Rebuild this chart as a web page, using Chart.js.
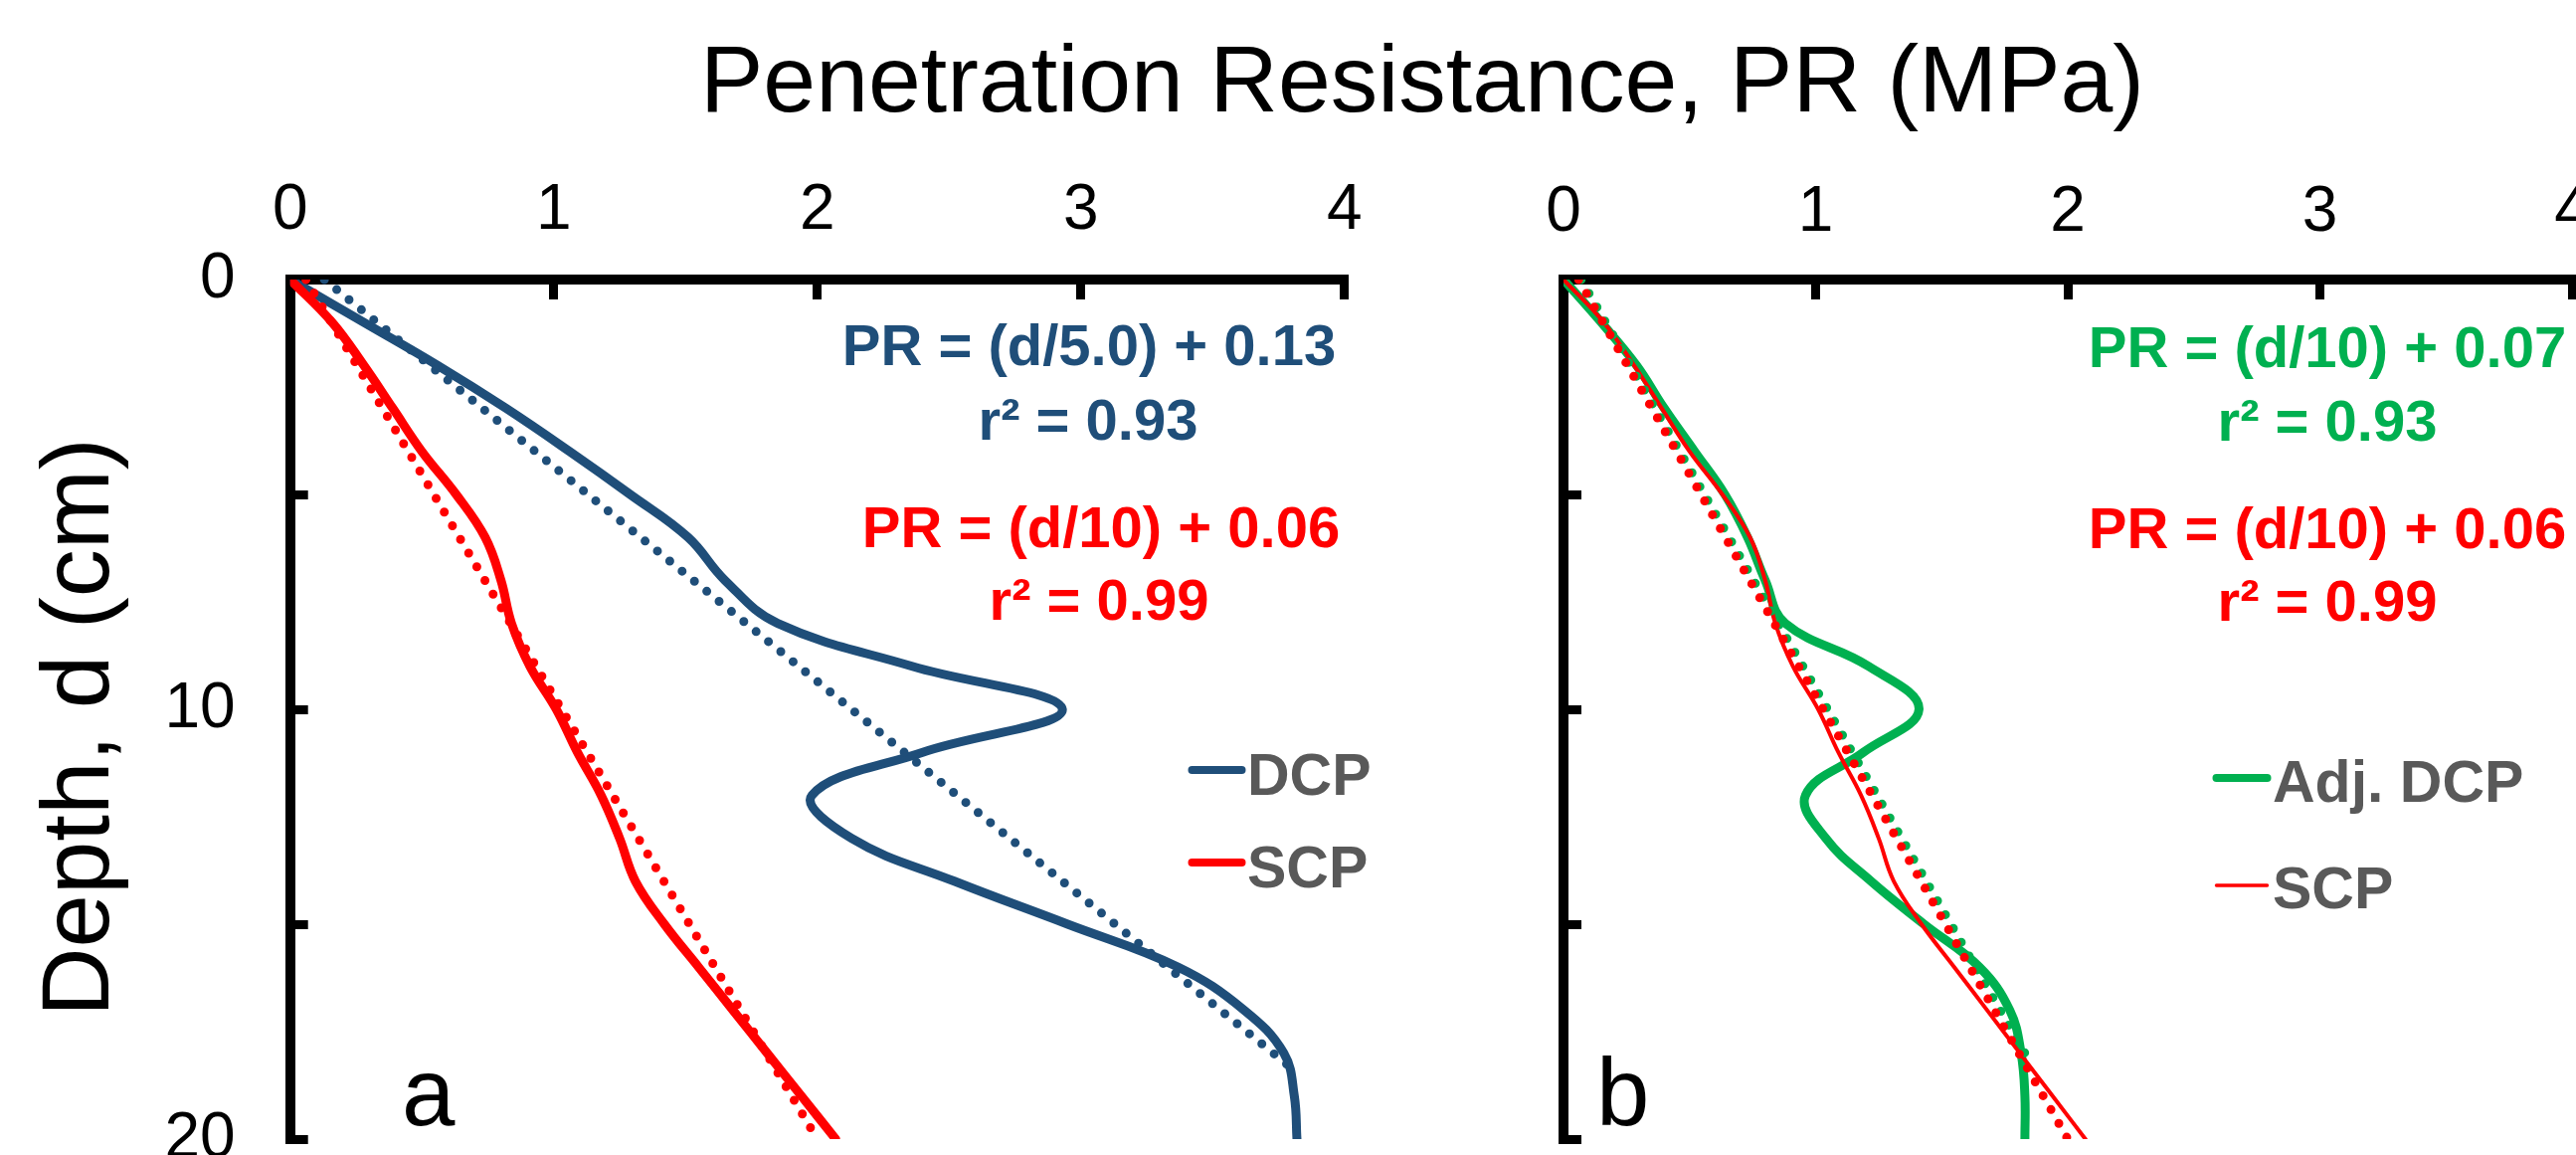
<!DOCTYPE html>
<html>
<head>
<meta charset="utf-8">
<script src="https://cdn.jsdelivr.net/npm/chart.js@4.4.1/dist/chart.umd.min.js"></script>
<style>
  html, body { margin: 0; padding: 0; background: #ffffff; }
  #wrap { position: relative; width: 2590px; height: 1161px; overflow: hidden; background: #ffffff; }
  canvas { position: absolute; top: 0; }
</style>
</head>
<body>
<div id="wrap">
  <canvas id="chartA" width="1400" height="1161" style="left:0px"></canvas>
  <canvas id="chartB" width="2316" height="1161" style="left:274px"></canvas>
</div>
<script>
// ---------------- DATA ----------------
const depthCm   = [0, 1, 2, 3, 4, 5, 6, 7, 8, 9, 10, 11, 12, 13, 14, 15, 16, 17, 18, 19, 20];
const dcpMPa    = [0, 0.28, 0.56, 0.82, 1.06, 1.29, 1.51, 1.65, 1.85, 2.36, 2.93, 2.40, 1.98, 2.13, 2.52, 2.95, 3.37, 3.62, 3.77, 3.81, 3.82];
const scpMPa    = [0, 0.16, 0.28, 0.39, 0.50, 0.63, 0.74, 0.80, 0.84, 0.91, 1.01, 1.09, 1.18, 1.25, 1.31, 1.42, 1.55, 1.68, 1.81, 1.94, 2.07];
const adjDcpMPa = [0, 0.15, 0.29, 0.40, 0.52, 0.64, 0.73, 0.80, 0.88, 1.21, 1.41, 1.19, 0.96, 1.04, 1.22, 1.43, 1.65, 1.77, 1.815, 1.83, 1.83];

// trend lines (end points)
const dcpTrendMPa    = [0.13, 3.80];
const dcpTrendDepth  = [0, 18.35];
const scpTrendMPa    = [0.06, 2.00];
const scpTrendDepth  = [0, 20];
const adjTrendMPa    = [0.07, 1.83];
const adjTrendDepth  = [0, 18.0];

const xTicksMPa   = [0, 1, 2, 3, 4];
const yTicksDepth = [0, 5, 10, 15, 20];
const yLabelled   = [0, 10, 20];

const titleText  = 'Penetration Resistance, PR (MPa)';
const yTitleText = 'Depth, d (cm)';
const eqA = ['PR = (d/5.0) + 0.13', 'r\u00B2 = 0.93', 'PR = (d/10) + 0.06', 'r\u00B2 = 0.99'];
const eqB = ['PR = (d/10) + 0.07', 'r\u00B2 = 0.93', 'PR = (d/10) + 0.06', 'r\u00B2 = 0.99'];
const panelLetters = ['a', 'b'];

// --------------- STYLE ----------------
const BLUE = '#1F4E79', RED = '#FF0000', GREEN = '#00B050', GRAY = '#595959';
const FAM = "'Liberation Sans', Arial, Helvetica, sans-serif";
Chart.defaults.font.family = FAM;

function pts(xs, ys) { return xs.map((x, i) => ({ x: x, y: ys[i] })); }

const overlayPlugin = {
  id: 'overlay',
  afterDatasetsDraw(chart, args, opts) {
    const ctx = chart.ctx;
    const ox = opts.offsetX || 0;
    ctx.save();
    (opts.texts || []).forEach(t => {
      ctx.save();
      ctx.font = t.font;
      ctx.fillStyle = t.color;
      ctx.textAlign = t.align || 'left';
      ctx.textBaseline = t.baseline || 'alphabetic';
      ctx.translate(t.x - ox, t.y);
      if (t.rotate) ctx.rotate(t.rotate);
      ctx.fillText(t.text, 0, 0);
      ctx.restore();
    });
    (opts.legend || []).forEach(l => {
      const ds = chart.data.datasets[l.dataset];
      ctx.strokeStyle = ds.borderColor;
      ctx.lineWidth = l.w || ds.borderWidth;
      ctx.lineCap = 'round';
      ctx.setLineDash([]);
      ctx.beginPath();
      ctx.moveTo(l.x1 - ox, l.y);
      ctx.lineTo(l.x2 - ox, l.y);
      ctx.stroke();
      ctx.font = 'bold 59px ' + FAM;
      ctx.fillStyle = GRAY;
      ctx.textAlign = 'left';
      ctx.textBaseline = 'alphabetic';
      ctx.fillText(ds.label, l.tx - ox, l.ty);
    });
    ctx.restore();
  }
};

function xScale(pad, height) {
  return {
    type: 'linear', position: 'top', min: 0, max: 4,
    afterBuildTicks: s => { s.ticks = xTicksMPa.map(v => ({ value: v })); },
    ticks: { color: '#000', font: { size: 64 }, padding: pad, maxRotation: 0, autoSkip: false },
    grid: { display: true, drawOnChartArea: false, drawTicks: true, tickLength: -20, tickWidth: 9, tickColor: '#000' },
    border: { display: true, width: 10, color: '#000' },
    afterFit: s => { s.height = height; s.paddingLeft = 0; s.paddingRight = 0; s.paddingTop = 0; s.paddingBottom = 0; }
  };
}
function yScale(showLabels, width) {
  return {
    type: 'linear', position: 'left', min: 0, max: 20, reverse: true,
    afterBuildTicks: s => { s.ticks = yTicksDepth.map(v => ({ value: v })); },
    ticks: {
      color: '#000', font: { size: 64 }, padding: 73, autoSkip: false,
      callback: v => (showLabels && yLabelled.includes(v)) ? String(v) : ''
    },
    grid: { display: true, drawOnChartArea: false, drawTicks: true, tickLength: -18, tickWidth: 9, tickColor: '#000' },
    border: { display: true, width: 10, color: '#000' },
    afterFit: s => { s.width = width; s.paddingLeft = 0; s.paddingRight = 0; s.paddingTop = 0; s.paddingBottom = 0; }
  };
}

const solid = (label, xs, color, w, order) => ({
  label: label, data: pts(xs, depthCm), borderColor: color, backgroundColor: color,
  borderWidth: w, showLine: true, pointRadius: 0, tension: 0.4, order: order,
  borderCapStyle: 'round', borderJoinStyle: 'round'
});
const dotted = (label, xs, ys, color, order) => ({
  label: label, data: pts(xs, ys), borderColor: color, backgroundColor: color,
  borderWidth: 9, showLine: true, pointRadius: 0, tension: 0, order: order,
  borderDash: [0, 16], borderCapStyle: 'round'
});

// ---------------- PANEL A ----------------
const xA = xScale(50, 281);
const yA = yScale(true, 291.7);

new Chart(document.getElementById('chartA'), {
  type: 'scatter',
  data: {
    datasets: [
      solid('DCP', dcpMPa, BLUE, 9, 3),
      solid('SCP', scpMPa, RED, 9, 2),
      dotted('DCP trend', dcpTrendMPa, dcpTrendDepth, BLUE, 1),
      dotted('SCP trend', scpTrendMPa, scpTrendDepth, RED, 0)
    ]
  },
  options: {
    responsive: false, animation: false, devicePixelRatio: 1,
    layout: { autoPadding: false, padding: { left: 0, top: 0, right: 48.3, bottom: 16 } },
    scales: { x: xA, y: yA },
    plugins: {
      legend: { display: false }, tooltip: { enabled: false }, title: { display: false },
      overlay: {
        offsetX: 0,
        texts: [
          { text: yTitleText, x: 83, y: 731, font: '96px ' + FAM, color: '#000', align: 'center', baseline: 'middle', rotate: -Math.PI / 2 },
          { text: eqA[0], x: 1095, y: 367, font: 'bold 58px ' + FAM, color: BLUE, align: 'center' },
          { text: eqA[1], x: 1094, y: 442, font: 'bold 58px ' + FAM, color: BLUE, align: 'center' },
          { text: eqA[2], x: 1107, y: 550, font: 'bold 58px ' + FAM, color: RED, align: 'center' },
          { text: eqA[3], x: 1105, y: 623, font: 'bold 58px ' + FAM, color: RED, align: 'center' },
          { text: panelLetters[0], x: 404, y: 1131, font: '96px ' + FAM, color: '#000', align: 'left' }
        ],
        legend: [
          { dataset: 0, x1: 1198.5, x2: 1248.5, y: 774, tx: 1254, ty: 799, w: 8 },
          { dataset: 1, x1: 1198.5, x2: 1248.5, y: 867, tx: 1254, ty: 892, w: 8 }
        ]
      }
    }
  },
  plugins: [overlayPlugin]
});

// ---------------- PANEL B ----------------
const xB = xScale(48, 138);
const yB = yScale(false, 1298);

new Chart(document.getElementById('chartB'), {
  type: 'scatter',
  data: {
    datasets: [
      solid('Adj. DCP', adjDcpMPa, GREEN, 9, 3),
      solid('SCP', scpMPa, RED, 4, 2),
      dotted('Adj. DCP trend', adjTrendMPa, adjTrendDepth, GREEN, 1),
      dotted('SCP trend', scpTrendMPa, scpTrendDepth, RED, 0)
    ]
  },
  options: {
    responsive: false, animation: false, devicePixelRatio: 1,
    layout: { autoPadding: false, padding: { left: 0, top: 0, right: 4, bottom: 16 } },
    scales: { x: xB, y: yB },
    plugins: {
      legend: { display: false }, tooltip: { enabled: false },
      title: { display: true, text: titleText, color: '#000', font: { size: 95, weight: 'normal' }, padding: { top: 29, bottom: 0 } },
      overlay: {
        offsetX: 274,
        texts: [
          { text: eqB[0], x: 2340, y: 369, font: 'bold 58px ' + FAM, color: GREEN, align: 'center' },
          { text: eqB[1], x: 2340, y: 443, font: 'bold 58px ' + FAM, color: GREEN, align: 'center' },
          { text: eqB[2], x: 2340, y: 551, font: 'bold 58px ' + FAM, color: RED, align: 'center' },
          { text: eqB[3], x: 2340, y: 624, font: 'bold 58px ' + FAM, color: RED, align: 'center' },
          { text: panelLetters[1], x: 1605, y: 1131, font: '96px ' + FAM, color: '#000', align: 'left' }
        ],
        legend: [
          { dataset: 0, x1: 2228.5, x2: 2279.5, y: 782, tx: 2285, ty: 806, w: 8 },
          { dataset: 1, x1: 2228.5, x2: 2279.5, y: 890, tx: 2285, ty: 913, w: 3.5 }
        ]
      }
    }
  },
  plugins: [overlayPlugin]
});
</script>
</body>
</html>
